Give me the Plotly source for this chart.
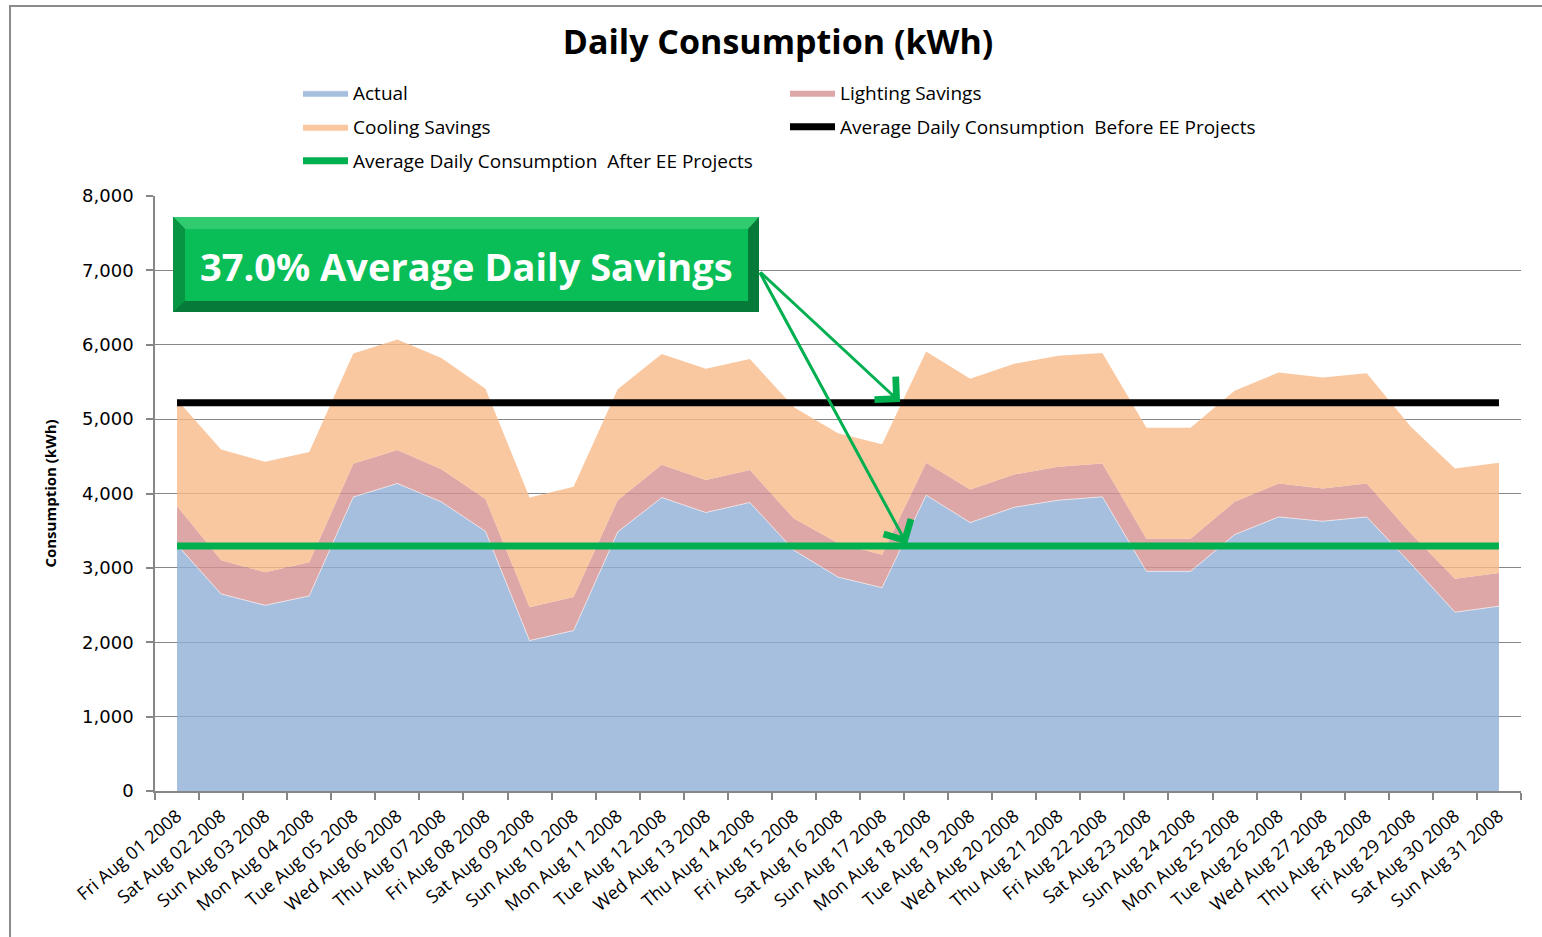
import plotly.graph_objects as go

dates = ["Fri Aug 01 2008", "Sat Aug 02 2008", "Sun Aug 03 2008", "Mon Aug 04 2008",
         "Tue Aug 05 2008", "Wed Aug 06 2008", "Thu Aug 07 2008", "Fri Aug 08 2008",
         "Sat Aug 09 2008", "Sun Aug 10 2008", "Mon Aug 11 2008", "Tue Aug 12 2008",
         "Wed Aug 13 2008", "Thu Aug 14 2008", "Fri Aug 15 2008", "Sat Aug 16 2008",
         "Sun Aug 17 2008", "Mon Aug 18 2008", "Tue Aug 19 2008", "Wed Aug 20 2008",
         "Thu Aug 21 2008", "Fri Aug 22 2008", "Sat Aug 23 2008", "Sun Aug 24 2008",
         "Mon Aug 25 2008", "Tue Aug 26 2008", "Wed Aug 27 2008", "Thu Aug 28 2008",
         "Fri Aug 29 2008", "Sat Aug 30 2008", "Sun Aug 31 2008"]

actual = [3310, 2650, 2496, 2623, 3953, 4135, 3887, 3491, 2022, 2157, 3483, 3946,
          3744, 3879, 3236, 2876, 2733, 3978, 3609, 3815, 3910, 3955, 2953, 2953,
          3447, 3685, 3627, 3685, 3056, 2404, 2485]
lighting_savings = [522, 451, 446, 451, 446, 451, 440, 435, 450, 450, 427, 441,
                    436, 436, 427, 459, 445, 435, 445, 440, 450, 449, 440, 440,
                    441, 450, 440, 450, 405, 450, 445]
cooling_savings = [1430, 1490, 1484, 1484, 1484, 1484, 1496, 1484, 1474, 1483, 1492, 1487,
                   1496, 1492, 1497, 1474, 1483, 1497, 1488, 1490, 1492, 1484, 1492, 1492,
                   1492, 1492, 1493, 1483, 1438, 1483, 1483]
avg_before_value = 5220
avg_after_value = 3295
avg_before = [avg_before_value] * len(dates)
avg_after = [avg_after_value] * len(dates)

y_ticks = [0, 1000, 2000, 3000, 4000, 5000, 6000, 7000, 8000]
savings_label = "37.0% Average Daily Savings"

FONT = "Open Sans"
GRID = "#868686"

fig = go.Figure()

fig.add_trace(go.Scatter(
    x=dates, y=actual, name="Actual", stackgroup="one", mode="lines",
    line=dict(width=1, color="rgba(255,255,255,0.55)"),
    fillcolor="rgba(145,175,214,0.8)", legend="legend"))
fig.add_trace(go.Scatter(
    x=dates, y=lighting_savings, name="Lighting Savings", stackgroup="one", mode="lines",
    line=dict(width=0, color="rgba(212,145,145,0.8)"),
    fillcolor="rgba(212,145,145,0.8)", legend="legend"))
fig.add_trace(go.Scatter(
    x=dates, y=cooling_savings, name="Cooling Savings", stackgroup="one", mode="lines",
    line=dict(width=0, color="rgba(249,186,136,0.8)"),
    fillcolor="rgba(249,186,136,0.8)", legend="legend2"))
fig.add_trace(go.Scatter(
    x=dates, y=avg_before, name="Average Daily Consumption  Before EE Projects",
    mode="lines", line=dict(width=7, color="#000000"), legend="legend2"))
fig.add_trace(go.Scatter(
    x=dates, y=avg_after, name="Average Daily Consumption  After EE Projects",
    mode="lines", line=dict(width=7, color="#00B050"), legend="legend3"))

L, R, T, B = 155, 21, 196, 146
W, H = 1542, 937
pw = W - L - R
ph = H - T - B


def px2paper_x(px):
    return (px - L) / pw


def px2paper_y(py):
    return (H - B - py) / ph


legend_common = dict(
    orientation="h", xanchor="left", yanchor="middle",
    x=px2paper_x(298), font=dict(family=FONT, size=19, color="#000000"),
    itemwidth=45, entrywidth=427, bgcolor="rgba(0,0,0,0)", traceorder="normal",
    itemclick=False,
)

# chart border + bevelled green label box
shapes = [
    dict(type="rect", xref="paper", yref="paper",
         x0=px2paper_x(10), x1=px2paper_x(1545), y0=px2paper_y(945), y1=px2paper_y(6),
         line=dict(color="#8C8C8C", width=2), fillcolor="rgba(0,0,0,0)", layer="below"),
]


def pth(points):
    s = "M " + " L ".join(f"{px2paper_x(a):.5f},{px2paper_y(b):.5f}" for a, b in points) + " Z"
    return s


shapes += [
    dict(type="path", xref="paper", yref="paper",
         path=pth([(173, 217), (759, 217), (759, 312), (173, 312)]),
         fillcolor="#067A38", line=dict(width=0)),
    dict(type="path", xref="paper", yref="paper",
         path=pth([(173, 217), (759, 217), (748, 229), (185, 229)]),
         fillcolor="#2FCB6E", line=dict(width=0)),
    dict(type="path", xref="paper", yref="paper",
         path=pth([(173, 217), (185, 229), (185, 301), (173, 312)]),
         fillcolor="#079544", line=dict(width=0)),
    dict(type="path", xref="paper", yref="paper",
         path=pth([(185, 229), (748, 229), (748, 301), (185, 301)]),
         fillcolor="#0ABE57", line=dict(width=0)),
]

annotations = [
    dict(xref="paper", yref="paper", x=px2paper_x(466), y=px2paper_y(266),
         text="<b>" + savings_label + "</b>", showarrow=False,
         font=dict(family=FONT, size=38, color="#FFFFFF"),
         xanchor="center", yanchor="middle"),
]

# arrows from the label box to the two average lines
tail_x = (759 - 177) / 44.065
tail_y = (791 - 271) / 74.375 * 1000
for head_x, head_y in [((900 - 177) / 44.065, avg_before_value + 10),
                       ((907 - 177) / 44.065, avg_after_value + 20)]:
    annotations.append(dict(
        x=head_x, y=head_y, xref="x", yref="y",
        ax=tail_x, ay=tail_y, axref="x", ayref="y",
        text="", showarrow=True, arrowhead=4, arrowsize=2.0, arrowwidth=3,
        arrowcolor="#00B050", standoff=0))

fig.update_layout(
    width=W, height=H,
    margin=dict(l=L, r=R, t=T, b=B, autoexpand=False),
    paper_bgcolor="#FFFFFF", plot_bgcolor="#FFFFFF",
    title=dict(text="<b>Daily Consumption (kWh)</b>", x=778 / W, xanchor="center",
               y=1 - 42 / H, yanchor="middle",
               font=dict(family=FONT, size=34, color="#000000")),
    showlegend=True,
    legend=dict(**legend_common, y=px2paper_y(93)),
    legend2=dict(**legend_common, y=px2paper_y(127)),
    legend3=dict(**legend_common, y=px2paper_y(161)),
    shapes=shapes,
    annotations=annotations,
    hovermode=False,
)

fig.update_xaxes(
    type="category", range=[-0.5, len(dates) - 0.5],
    categoryorder="array", categoryarray=dates,
    tickson="boundaries", ticks="outside", ticklen=7, tickcolor=GRID, tickwidth=1.5,
    showline=True, linecolor=GRID, linewidth=1.5, showgrid=False,
    tickangle=-40, ticklabelstandoff=6,
    tickfont=dict(family=FONT, size=18, color="#000000"),
    automargin=False,
)
fig.update_yaxes(
    range=[0, 8000], tickvals=y_ticks, tickformat=",",
    showgrid=True, gridcolor=GRID, gridwidth=1.2,
    showline=True, linecolor=GRID, linewidth=1.5,
    ticks="outside", ticklen=7, tickcolor=GRID, tickwidth=1.5,
    ticklabelstandoff=9,
    tickfont=dict(family="DejaVu Sans", size=18, color="#000000"),
    title=dict(text="<b>Consumption (kWh)</b>", standoff=22,
               font=dict(family=FONT, size=15, color="#000000")),
    automargin=False, zeroline=False,
)

fig.write_html("out.html", config={"displayModeBar": False},
               post_script="document.body.style.margin='0';")
